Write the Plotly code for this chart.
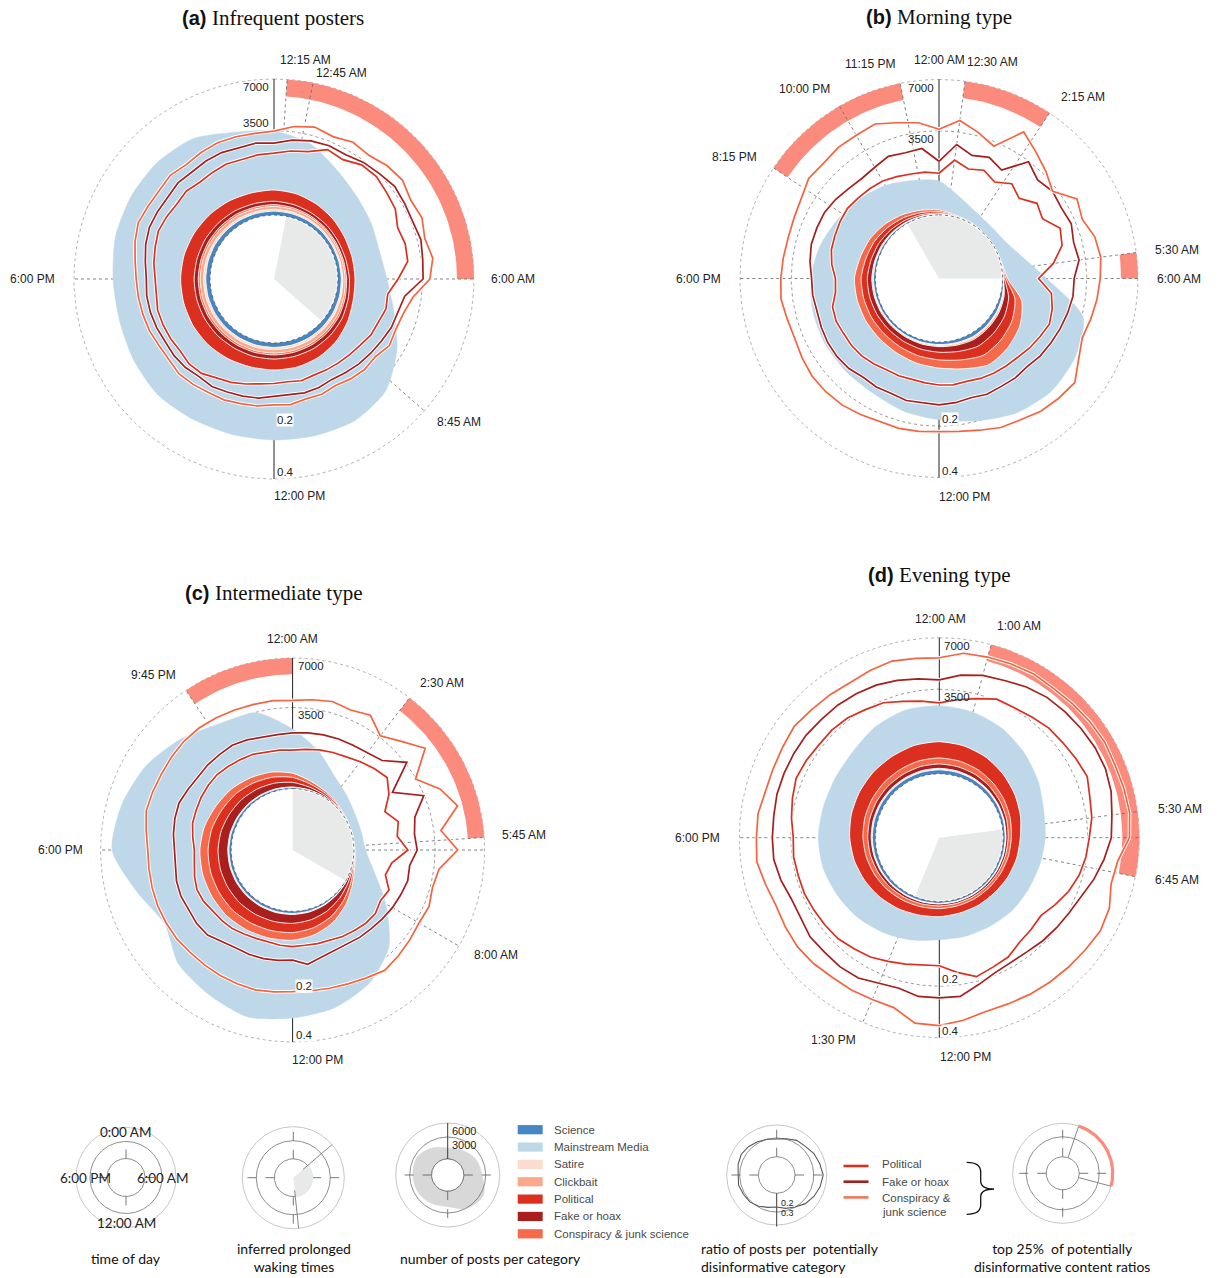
import numpy as np
import plotly.graph_objects as go

W, H = 1221, 1278

# ---------------------------------------------------------------- time grids
HOURS_24 = list(range(24))                 # hourly post counts
HOURS_48 = [i / 2 for i in range(48)]      # half-hourly content ratios
HOURS_12 = list(range(0, 24, 2))           # legend example blob

COUNT_TICKS = [3500, 7000]
RATIO_TICKS = [0.2, 0.4]

# ------------------------------------------------ (a) Infrequent posters
A_SCIENCE = [100, 95, 90, 85, 80, 80, 85, 95, 105, 110, 115, 115, 115, 115, 110, 110, 110, 110, 110, 110, 110, 105, 105, 100]
A_SATIRE = [50, 45, 40, 40, 35, 35, 40, 45, 55, 60, 60, 60, 60, 60, 60, 60, 60, 60, 60, 60, 55, 55, 55, 50]
A_CLICKBAIT = [80, 75, 70, 65, 60, 60, 65, 75, 85, 90, 95, 95, 95, 95, 95, 95, 95, 95, 95, 90, 90, 85, 85, 80]
A_CONSPIRACY = [50, 45, 40, 35, 35, 35, 40, 45, 50, 55, 55, 55, 55, 55, 55, 55, 55, 55, 55, 55, 55, 55, 50, 50]
A_FAKE = [100, 95, 85, 80, 70, 70, 80, 90, 110, 120, 125, 125, 125, 125, 120, 125, 125, 125, 125, 120, 120, 115, 110, 105]
A_POLITICAL = [366, 356, 318, 272, 232, 201, 171, 162, 205, 276, 331, 366, 366, 366, 412, 443, 457, 457, 457, 453, 422, 401, 376, 361]
A_MAINSTREAM = [2730, 2310, 1650, 1290, 1140, 1040, 1210, 1690, 2520, 3360, 3600, 3500, 3440, 3440, 3470, 3560, 3420, 3290, 3350, 3560, 3660, 3690, 3540, 2960]
A_RATIO_POLITICAL = [0.131, 0.140, 0.148, 0.173, 0.166, 0.185, 0.188, 0.179, 0.173, 0.154, 0.160, 0.157, 0.126, 0.101, 0.104, 0.097,
                     0.094, 0.086, 0.082, 0.079, 0.077, 0.075, 0.078, 0.074, 0.076, 0.079, 0.086, 0.094, 0.101, 0.112, 0.115, 0.110,
                     0.113, 0.115, 0.116, 0.111, 0.112, 0.118, 0.123, 0.129, 0.126, 0.122, 0.126, 0.120, 0.123, 0.127, 0.125, 0.129]
A_RATIO_FAKE = [0.160, 0.173, 0.182, 0.186, 0.184, 0.195, 0.202, 0.212, 0.208, 0.205, 0.212, 0.205, 0.202, 0.148, 0.137, 0.134,
                0.126, 0.120, 0.115, 0.109, 0.104, 0.108, 0.109, 0.106, 0.109, 0.115, 0.118, 0.121, 0.126, 0.123, 0.129, 0.131,
                0.130, 0.134, 0.137, 0.138, 0.136, 0.142, 0.151, 0.157, 0.156, 0.154, 0.160, 0.157, 0.161, 0.163, 0.160, 0.164]
A_RATIO_CONSPIRACY = [0.198, 0.218, 0.230, 0.219, 0.232, 0.225, 0.240, 0.247, 0.232, 0.240, 0.226, 0.240, 0.225, 0.173, 0.154, 0.148,
                      0.152, 0.136, 0.137, 0.131, 0.123, 0.128, 0.126, 0.133, 0.131, 0.137, 0.140, 0.145, 0.146, 0.151, 0.155, 0.150,
                      0.151, 0.157, 0.160, 0.163, 0.166, 0.173, 0.185, 0.195, 0.190, 0.188, 0.194, 0.186, 0.192, 0.197, 0.196, 0.195]
A_WAKING = (0.75, 8.75)
A_TOP25 = [(0.25, 6.0)]

# ------------------------------------------------ (b) Morning type
B_SCIENCE = [10, 4, 2, 1, 1, 2, 10, 51, 74, 86, 92, 74, 62, 57, 51, 49, 49, 49, 49, 41, 36, 29, 22, 15]
B_SATIRE = [4, 2, 1, 0, 0, 1, 4, 19, 28, 32, 35, 28, 23, 21, 19, 18, 18, 18, 18, 15, 13, 11, 8, 6]
B_CLICKBAIT = [5, 2, 1, 0, 0, 1, 5, 26, 37, 43, 46, 37, 31, 28, 26, 24, 24, 24, 24, 20, 18, 14, 11, 7]
B_FAKE = [26, 10, 5, 2, 2, 5, 26, 129, 185, 215, 230, 185, 156, 142, 129, 122, 122, 122, 122, 102, 90, 71, 54, 37]
B_POLITICAL = [39, 15, 8, 3, 3, 8, 39, 193, 277, 322, 345, 277, 234, 213, 193, 183, 183, 183, 183, 154, 135, 107, 81, 55]
B_CONSPIRACY = [46, 18, 8, 4, 4, 8, 46, 225, 323, 376, 403, 323, 275, 250, 225, 214, 214, 214, 214, 180, 157, 125, 93, 64]
B_MAINSTREAM = [944, 526, 303, 259, 318, 618, 1346, 2945, 3145, 3119, 2795, 2548, 2352, 2203, 2007, 1989, 1989, 1937, 1836, 1687, 1467, 1334, 1207, 1046]
B_RATIO_POLITICAL = [0.079, 0.115, 0.099, 0.109, 0.094, 0.115, 0.099, 0.126, 0.115, 0.148, 0.137, 0.104, 0.066, 0.099, 0.109, 0.115,
                     0.107, 0.101, 0.094, 0.091, 0.089, 0.086, 0.082, 0.084, 0.082, 0.079, 0.077, 0.079, 0.079, 0.084, 0.089, 0.091,
                     0.091, 0.094, 0.091, 0.077, 0.075, 0.086, 0.094, 0.097, 0.101, 0.104, 0.101, 0.099, 0.097, 0.091, 0.086, 0.084]
B_RATIO_FAKE = [0.109, 0.160, 0.137, 0.148, 0.131, 0.198, 0.173, 0.185, 0.179, 0.185, 0.173, 0.179, 0.160, 0.160, 0.154, 0.148,
                0.142, 0.137, 0.129, 0.131, 0.129, 0.131, 0.126, 0.131, 0.134, 0.131, 0.134, 0.129, 0.131, 0.129, 0.137, 0.140,
                0.140, 0.137, 0.134, 0.137, 0.137, 0.145, 0.151, 0.151, 0.151, 0.145, 0.137, 0.134, 0.140, 0.151, 0.145, 0.148]
B_RATIO_CONSPIRACY = [0.205, 0.240, 0.212, 0.185, 0.277, 0.240, 0.212, 0.185, 0.240, 0.225, 0.247, 0.254, 0.247, 0.240, 0.232, 0.225,
                      0.247, 0.284, 0.277, 0.269, 0.254, 0.247, 0.232, 0.222, 0.218, 0.222, 0.225, 0.225, 0.232, 0.240, 0.243, 0.243,
                      0.236, 0.229, 0.232, 0.240, 0.236, 0.232, 0.229, 0.232, 0.240, 0.258, 0.254, 0.262, 0.262, 0.269, 0.247, 0.232]
B_WAKING = (22.0, 6.0)
B_TOP25 = [(20.25, 23.25), (0.5, 2.25), (5.5, 6.0)]

# ------------------------------------------------ (c) Intermediate type
C_SCIENCE = [27, 16, 9, 5, 2, 1, 2, 5, 13, 25, 39, 49, 55, 58, 60, 62, 62, 62, 61, 58, 51, 47, 41, 35]
C_SATIRE = [5, 3, 2, 1, 0, 0, 0, 1, 2, 4, 6, 8, 9, 10, 10, 10, 10, 10, 10, 10, 9, 8, 7, 6]
C_CLICKBAIT = [9, 5, 3, 2, 1, 0, 1, 2, 4, 8, 13, 16, 18, 19, 20, 21, 21, 21, 20, 19, 17, 16, 14, 12]
C_FAKE = [126, 75, 44, 22, 7, 4, 7, 22, 59, 117, 180, 228, 259, 269, 279, 290, 290, 290, 286, 269, 239, 219, 190, 162]
C_POLITICAL = [148, 89, 52, 25, 8, 5, 8, 25, 70, 138, 212, 269, 305, 317, 329, 342, 342, 342, 337, 317, 281, 258, 223, 190]
C_CONSPIRACY = [134, 81, 47, 22, 7, 5, 7, 22, 64, 126, 193, 246, 278, 288, 300, 311, 311, 311, 307, 288, 255, 233, 202, 172]
C_MAINSTREAM = [1848, 1123, 554, 372, 273, 254, 303, 634, 1435, 2715, 3550, 4020, 4249, 4557, 4106, 3668, 2789, 3668, 5071, 4841, 4389, 3664, 3029, 2895]
C_RATIO_POLITICAL = [0.075, 0.079, 0.084, 0.089, 0.094, 0.104, 0.115, 0.126, 0.104, 0.075, 0.099, 0.089, 0.115, 0.075, 0.066, 0.086,
                     0.079, 0.086, 0.084, 0.079, 0.075, 0.070, 0.068, 0.066, 0.067, 0.066, 0.064, 0.065, 0.068, 0.073, 0.075, 0.077,
                     0.082, 0.084, 0.079, 0.073, 0.071, 0.077, 0.084, 0.086, 0.089, 0.091, 0.092, 0.089, 0.086, 0.084, 0.079, 0.077]
C_RATIO_FAKE = [0.120, 0.123, 0.126, 0.129, 0.131, 0.137, 0.148, 0.205, 0.115, 0.198, 0.148, 0.137, 0.142, 0.123, 0.126, 0.120,
                0.115, 0.109, 0.104, 0.101, 0.097, 0.097, 0.104, 0.115, 0.101, 0.104, 0.107, 0.109, 0.109, 0.115, 0.129, 0.131,
                0.129, 0.131, 0.129, 0.123, 0.121, 0.129, 0.134, 0.137, 0.131, 0.126, 0.129, 0.129, 0.131, 0.126, 0.120, 0.118]
C_RATIO_CONSPIRACY = [0.225, 0.232, 0.240, 0.232, 0.247, 0.205, 0.240, 0.292, 0.198, 0.262, 0.307, 0.225, 0.284, 0.218, 0.208, 0.218,
                      0.212, 0.218, 0.225, 0.232, 0.218, 0.208, 0.202, 0.198, 0.197, 0.202, 0.208, 0.208, 0.208, 0.208, 0.208, 0.212,
                      0.212, 0.212, 0.210, 0.208, 0.208, 0.218, 0.232, 0.232, 0.232, 0.236, 0.240, 0.240, 0.236, 0.232, 0.229, 0.229]
C_WAKING = (0.0, 8.0)
C_TOP25 = [(21.75, 24.0), (2.5, 5.75)]

# ------------------------------------------------ (d) Evening type
D_SCIENCE = [100, 96, 89, 78, 68, 58, 48, 45, 42, 39, 39, 39, 42, 45, 51, 58, 64, 71, 77, 82, 85, 89, 92, 98]
D_SATIRE = [20, 19, 18, 16, 14, 12, 10, 9, 8, 8, 8, 8, 8, 9, 10, 12, 13, 14, 15, 16, 17, 18, 18, 20]
D_CLICKBAIT = [20, 19, 18, 16, 14, 12, 10, 9, 8, 8, 8, 8, 8, 9, 10, 12, 13, 14, 15, 16, 17, 18, 18, 20]
D_FAKE = [120, 115, 107, 94, 81, 69, 58, 54, 50, 47, 47, 47, 50, 54, 61, 69, 77, 85, 92, 98, 102, 107, 111, 118]
D_CONSPIRACY = [180, 173, 160, 141, 122, 104, 87, 81, 75, 70, 70, 70, 75, 81, 92, 104, 116, 128, 138, 147, 153, 160, 166, 177]
D_POLITICAL = [558, 539, 496, 436, 378, 322, 268, 251, 235, 216, 216, 216, 235, 251, 288, 322, 360, 399, 430, 457, 478, 496, 519, 550]
D_MAINSTREAM = [1601, 1535, 1409, 1228, 1058, 899, 911, 861, 852, 882, 842, 842, 812, 943, 1049, 1158, 1227, 1298, 1289, 1193, 1157, 1215, 1472, 1616]
D_RATIO_POLITICAL = [0.157, 0.170, 0.185, 0.205, 0.205, 0.212, 0.222, 0.225, 0.232, 0.240, 0.225, 0.218, 0.205, 0.198, 0.188, 0.173,
                     0.154, 0.137, 0.142, 0.148, 0.166, 0.173, 0.185, 0.160, 0.137, 0.137, 0.145, 0.154, 0.166, 0.173, 0.182, 0.185,
                     0.188, 0.192, 0.192, 0.195, 0.192, 0.202, 0.212, 0.222, 0.218, 0.212, 0.212, 0.208, 0.198, 0.192, 0.176, 0.166]
D_RATIO_FAKE = [0.232, 0.254, 0.269, 0.277, 0.292, 0.303, 0.307, 0.311, 0.315, 0.315, 0.307, 0.292, 0.284, 0.262, 0.240, 0.218,
                0.205, 0.198, 0.192, 0.185, 0.185, 0.192, 0.212, 0.240, 0.240, 0.240, 0.225, 0.232, 0.247, 0.250, 0.247, 0.250,
                0.240, 0.240, 0.254, 0.265, 0.265, 0.265, 0.269, 0.269, 0.269, 0.269, 0.265, 0.265, 0.262, 0.258, 0.250, 0.240]
D_RATIO_CONSPIRACY = [0.315, 0.340, 0.344, 0.348, 0.352, 0.348, 0.352, 0.357, 0.361, 0.357, 0.361, 0.365, 0.357, 0.315, 0.307, 0.332,
                      0.340, 0.332, 0.327, 0.323, 0.319, 0.315, 0.315, 0.332, 0.348, 0.344, 0.299, 0.296, 0.299, 0.299, 0.307, 0.311,
                      0.307, 0.303, 0.315, 0.332, 0.327, 0.327, 0.315, 0.315, 0.319, 0.327, 0.319, 0.315, 0.311, 0.319, 0.327, 0.319]
D_WAKING = (5.5, 13.5)
D_TOP25 = [(1.0, 6.75)]

# ------------------------------------------------ legend examples
G2_WAKING = (3.3, 11.6)
G3_POSTS = [1158, 1371, 1914, 2254, 3505, 2997, 1832, 1997, 2254, 2342, 2432, 1752]
G3_TICKS = [3000, 6000]
G4_RATIO = [0.162, 0.180, 0.213, 0.220, 0.255, 0.277, 0.308, 0.285, 0.255, 0.220, 0.174, 0.144,
            0.116, 0.133, 0.162, 0.187, 0.193, 0.206, 0.193, 0.213, 0.227, 0.213, 0.193, 0.174]
G4_TICKS = [0.2, 0.3]
G5_TOP25 = (1.25, 7.0)

CATEGORY_NAMES = ["Science", "Mainstream Media", "Satire", "Clickbait", "Political", "Fake or hoax", "Conspiracy & junk science"]
LINE_NAMES = ["Political", "Fake or hoax", "Conspiracy &<br>junk science"]

# ---------------------------------------------------------------- styling
COLORS = {
    "Science": "#4686c3",
    "Mainstream Media": "#bed8e9",
    "Satire": "#fddcd0",
    "Clickbait": "#fca98b",
    "Political": "#db3020",
    "Fake or hoax": "#a81f1e",
    "Conspiracy & junk science": "#f46a4b",
}
LINE_COLORS = {"Political": "#d93020", "Fake or hoax": "#a51f1d", "Conspiracy & junk science": "#f6633f"}
TOP25_COLOR = "#fb8b7c"
WAKE_COLOR = "#e8e9e9"
SANS = "Liberation Sans, Arial, sans-serif"
HUMAN = "Lato, Open Sans, sans-serif"

HOLE = 0.32          # inner radius of the count scale (outer ring = 1)
COUNT_MAX = 7000
RATIO_MAX = 0.4
TOP25_INNER = 0.915


def count_radius(v):
    v = np.asarray(v, dtype=float)
    return np.sqrt(HOLE ** 2 + (1 - HOLE ** 2) * v / COUNT_MAX)


def ratio_radius(v):
    return count_radius(np.asarray(v, dtype=float) / RATIO_MAX * COUNT_MAX)


def polar_xy(hours, radii):
    th = np.deg2rad(np.asarray(hours, dtype=float) * 15.0)
    r = np.asarray(radii, dtype=float)
    return r * np.sin(th), r * np.cos(th)


def closed(x, y):
    return np.append(x, x[0]), np.append(y, y[0])


def clock(h):
    h = h % 24
    hh = int(h)
    mm = int(round((h - hh) * 60))
    return f"{hh % 12 or 12}:{mm:02d} {'AM' if hh < 12 else 'PM'}"


fig = go.Figure()
annotations, shapes = [], []


def add_axes(idx, box, center, scale):
    x0, x1, y0, y1 = box
    cx, cy = center
    s = "" if idx == 1 else str(idx)
    fig.update_layout(**{
        "xaxis" + s: dict(domain=[x0 / W, x1 / W], range=[(x0 - cx) / scale, (x1 - cx) / scale],
                          visible=False, fixedrange=True, anchor="y" + s),
        "yaxis" + s: dict(domain=[1 - y1 / H, 1 - y0 / H], range=[(cy - y1) / scale, (cy - y0) / scale],
                          visible=False, fixedrange=True, anchor="x" + s),
    })
    return ("x" + s, "y" + s)


def trace(ax, x, y, **kw):
    fig.add_trace(go.Scatter(x=x, y=y, xaxis=ax[0], yaxis=ax[1], mode="lines",
                             hoverinfo="skip", showlegend=False, **kw))


def note(ax, x, y, text, size=12, family=SANS, color="#222222", xanchor="center",
         yanchor="middle", xshift=0, yshift=0, bg=None, align="center"):
    d = dict(x=x, y=y, xref=ax[0], yref=ax[1], text=text, showarrow=False,
             xanchor=xanchor, yanchor=yanchor, xshift=xshift, yshift=yshift, align=align,
             font=dict(family=family, size=size, color=color))
    if bg:
        d.update(bgcolor=bg, borderpad=0)
    annotations.append(d)


RING_H = np.linspace(0, 24, 289)


def ring(ax, r, color, width, dash="solid", fill=None):
    x, y = polar_xy(RING_H, np.full(RING_H.size, r))
    kw = dict(line=dict(color=color, width=width, dash=dash))
    if fill:
        kw.update(fill="toself", fillcolor=fill)
    trace(ax, x, y, **kw)


def spoke(ax, h, r0, r1, color, width, dash="solid"):
    x, y = polar_xy([h, h], [r0, r1])
    trace(ax, x, y, line=dict(color=color, width=width, dash=dash))


def arc_span(h1, h2):
    if h2 <= h1:
        h2 += 24
    return np.linspace(h1, h2, max(8, int((h2 - h1) * 12)))


def band(ax, h1, h2, r_in, r_out, color):
    hs = arc_span(h1, h2)
    xo, yo = polar_xy(hs, np.full(hs.size, r_out))
    xi, yi = polar_xy(hs[::-1], np.full(hs.size, r_in))
    trace(ax, np.concatenate([xo, xi, xo[:1]]), np.concatenate([yo, yi, yo[:1]]),
          fill="toself", fillcolor=color, line=dict(width=0, color=color))


def wedge(ax, h1, h2, r, color):
    hs = arc_span(h1, h2)
    x, y = polar_xy(hs, np.full(hs.size, r))
    trace(ax, np.concatenate([[0], x, [0]]), np.concatenate([[0], y, [0]]),
          fill="toself", fillcolor=color, line=dict(width=0, color=color))


def draw_panel(ax, cats, order, mainstream, ratio_lines, waking, top25, label_shift, tick_side, k3500_anchor):
    edges = sorted({round(h % 24, 3) for pair in list(top25) + [waking] for h in pair} | {6.0, 18.0})
    # reference rings
    ring(ax, 1.0, "#a0a0a0", 0.8, "dot")
    ring(ax, float(count_radius(COUNT_TICKS[0])), "#808080", 0.8, "dot")
    # top 25% disinformative ratio periods
    for h1, h2 in top25:
        band(ax, h1, h2, TOP25_INNER, 1.0, TOP25_COLOR)
    # spokes at the period boundaries and the clock axes
    for h in edges:
        if h in (0.0, 12.0):
            continue
        spoke(ax, h, HOLE, 1.0, "#666666", 0.8, "dot")
    for h in (0, 12):
        spoke(ax, h, HOLE, 1.0, "#222222", 1.0)
    # stacked post counts per category
    cum = np.zeros(24)
    layers = []
    for name in order:
        cum = cum + np.asarray(cats[name], dtype=float)
        layers.append((name, cum.copy()))
    total = cum + np.asarray(mainstream, dtype=float)
    x, y = closed(*polar_xy(HOURS_24, count_radius(total)))
    trace(ax, x, y, fill="toself", fillcolor=COLORS["Mainstream Media"],
          line=dict(color=COLORS["Mainstream Media"], width=0.5, shape="spline", smoothing=0.7))
    for name, c in reversed(layers):
        x, y = closed(*polar_xy(HOURS_24, count_radius(c)))
        trace(ax, x, y, fill="toself", fillcolor=COLORS[name],
              line=dict(color="white", width=0.9, shape="spline", smoothing=0.7))
    ring(ax, HOLE, "#555555", 0.8, "dot", fill="white")
    wedge(ax, waking[0], waking[1], HOLE - 0.006, WAKE_COLOR)
    # ratio of potentially disinformative posts
    for name, vals in ratio_lines.items():
        x, y = closed(*polar_xy(HOURS_48, ratio_radius(vals)))
        trace(ax, x, y, line=dict(color="white", width=3.6))
        trace(ax, x, y, line=dict(color=LINE_COLORS[name], width=1.7))
    # time labels
    for h, (xs, ys) in label_shift.items():
        x, y = polar_xy([h], [1.0])
        note(ax, float(x[0]), float(y[0]), clock(h), size=12, xshift=xs, yshift=ys)
    # scale labels
    xa = "right" if tick_side == "left" else "left"
    xs = -3 if tick_side == "left" else 3
    note(ax, 0, float(count_radius(COUNT_TICKS[1])), str(COUNT_TICKS[1]), size=11.5, xanchor=xa, yanchor="top", xshift=xs)
    note(ax, 0, float(count_radius(COUNT_TICKS[0])), str(COUNT_TICKS[0]), size=11.5, xanchor=xa, yanchor=k3500_anchor, xshift=xs)
    for v in RATIO_TICKS:
        note(ax, 0, -float(ratio_radius(v)), f"{v:.1f}", size=11.5, xanchor="left", yanchor="bottom", xshift=2, bg="white")


# ---------------------------------------------------------------- main panels
PANELS = [
    dict(idx=1, box=(0, 610, 0, 540), center=(274, 279), scale=200,
         cats={"Science": A_SCIENCE, "Satire": A_SATIRE, "Clickbait": A_CLICKBAIT, "Conspiracy & junk science": A_CONSPIRACY,
               "Fake or hoax": A_FAKE, "Political": A_POLITICAL},
         order=["Science", "Satire", "Clickbait", "Conspiracy & junk science", "Fake or hoax", "Political"],
         mainstream=A_MAINSTREAM,
         ratios={"Political": A_RATIO_POLITICAL, "Fake or hoax": A_RATIO_FAKE, "Conspiracy & junk science": A_RATIO_CONSPIRACY},
         waking=A_WAKING, top25=A_TOP25,
         labels={0.25: (18, 19), 0.75: (28, 10), 6: (39, 0), 8.75: (35, -11), 12: (25, -17), 18: (-42, 0)},
         tick_side="left", k3500="bottom"),
    dict(idx=2, box=(610, 1221, 0, 540), center=(939, 278.5), scale=199,
         cats={"Science": B_SCIENCE, "Satire": B_SATIRE, "Clickbait": B_CLICKBAIT, "Fake or hoax": B_FAKE,
               "Political": B_POLITICAL, "Conspiracy & junk science": B_CONSPIRACY},
         order=["Science", "Satire", "Clickbait", "Fake or hoax", "Political", "Conspiracy & junk science"],
         mainstream=B_MAINSTREAM,
         ratios={"Political": B_RATIO_POLITICAL, "Fake or hoax": B_RATIO_FAKE, "Conspiracy & junk science": B_RATIO_CONSPIRACY},
         waking=B_WAKING, top25=B_TOP25,
         labels={0: (0, 19.5), 0.5: (28, 19.5), 23.25: (-30, 19), 22: (-35.5, 17), 20.25: (-39, 11), 2.25: (33, 16),
                 5.5: (41, 3), 6: (41, 0), 12: (25.6, -19), 18: (-42, 0)},
         tick_side="left", k3500="top"),
    dict(idx=3, box=(0, 610, 540, 1100), center=(292.6, 850), scale=192,
         cats={"Science": C_SCIENCE, "Satire": C_SATIRE, "Clickbait": C_CLICKBAIT, "Fake or hoax": C_FAKE,
               "Political": C_POLITICAL, "Conspiracy & junk science": C_CONSPIRACY},
         order=["Science", "Satire", "Clickbait", "Fake or hoax", "Political", "Conspiracy & junk science"],
         mainstream=C_MAINSTREAM,
         ratios={"Political": C_RATIO_POLITICAL, "Fake or hoax": C_RATIO_FAKE, "Conspiracy & junk science": C_RATIO_CONSPIRACY},
         waking=C_WAKING, top25=C_TOP25,
         labels={0: (0, 19), 21.75: (-32, 15), 2.5: (33, 15), 5.75: (40, 2), 8: (37, -9), 12: (24.5, -18), 18: (-40, 0)},
         tick_side="right", k3500="top"),
    dict(idx=4, box=(610, 1221, 540, 1100), center=(939.3, 837.7), scale=200,
         cats={"Science": D_SCIENCE, "Satire": D_SATIRE, "Clickbait": D_CLICKBAIT, "Fake or hoax": D_FAKE,
               "Conspiracy & junk science": D_CONSPIRACY, "Political": D_POLITICAL},
         order=["Science", "Satire", "Clickbait", "Fake or hoax", "Conspiracy & junk science", "Political"],
         mainstream=D_MAINSTREAM,
         ratios={"Political": D_RATIO_POLITICAL, "Fake or hoax": D_RATIO_FAKE, "Conspiracy & junk science": D_RATIO_CONSPIRACY},
         waking=D_WAKING, top25=D_TOP25,
         labels={0: (1, 19), 1: (28, 19), 5.5: (42, 3), 6.75: (42, -3), 13.5: (-29, -17.5), 12: (26, -19), 18: (-41.6, 0)},
         tick_side="right", k3500="top"),
]

for p in PANELS:
    ax = add_axes(p["idx"], p["box"], p["center"], p["scale"])
    draw_panel(ax, p["cats"], p["order"], p["mainstream"], p["ratios"], p["waking"], p["top25"],
               p["labels"], p["tick_side"], p["k3500"])

# ---------------------------------------------------------------- overlay (pixel coordinates)
fig.update_layout(xaxis10=dict(domain=[0, 1], range=[0, W], visible=False, fixedrange=True, anchor="y10"),
                  yaxis10=dict(domain=[0, 1], range=[H, 0], visible=False, fixedrange=True, anchor="x10"))
OV = ("x10", "y10")
fig.add_trace(go.Scatter(x=[0], y=[0], xaxis="x10", yaxis="y10", mode="markers",
                         marker=dict(opacity=0), hoverinfo="skip", showlegend=False))

TITLES = [("(a)", "Infrequent posters", 273, 18), ("(b)", "Morning type", 939, 17),
          ("(c)", "Intermediate type", 273.5, 593), ("(d)", "Evening type", 939, 575)]
for tag, name, tx, ty in TITLES:
    note(OV, tx, ty, f"<b>{tag}</b> <span style='font-family:Liberation Serif, Times New Roman, serif;font-size:21px'>{name}</span>",
         size=20, color="#111111")

# ---------------------------------------------------------------- legend examples
def glyph_rings(ax, hole, mid):
    ring(ax, 1.0, "#b8b8b8", 0.8)
    ring(ax, mid, "#707070", 0.8)
    ring(ax, hole, "#707070", 0.8)


# time of day
g1 = add_axes(5, (62, 190, 1118, 1236), (126, 1177.5), 50)
glyph_rings(g1, 0.38, 0.72)
for h in (0, 6, 12, 18):
    spoke(g1, h, 0.38, 0.72, "#555555", 0.8, "dash")
for txt, px, py in [("0:00 AM", 126, 1131.5), ("6:00 PM", 85, 1177.5), ("6:00 AM", 163, 1177.5), ("12:00 AM", 126, 1223)]:
    note(OV, px, py, txt, size=13.5, family=HUMAN, color="#222222")

# inferred prolonged waking times
g2 = add_axes(6, (228, 360, 1118, 1238), (293.3, 1177.7), 51)
glyph_rings(g2, 0.37, 0.725)
for h in (0, 6, 12, 18):
    spoke(g2, h, 0.37, 1.0, "#555555", 0.8, "dash")
wedge(g2, G2_WAKING[0], G2_WAKING[1], 0.39, WAKE_COLOR)
for h in G2_WAKING:
    spoke(g2, h, 0.25, 1.0, "#7a7a7a", 0.9)

# number of posts per category
G3_HOLE = 0.31
g3 = add_axes(7, (388, 508, 1115, 1235), (447.7, 1175), 52)
g3_r = np.sqrt(G3_HOLE ** 2 + (1 - G3_HOLE ** 2) * np.asarray(G3_POSTS, float) / G3_TICKS[1])
bx, by = closed(*polar_xy(HOURS_12, g3_r))
trace(g3, bx, by, fill="toself", fillcolor="#d8d8d8", line=dict(color="#d8d8d8", width=0.5, shape="spline", smoothing=1.0))
glyph_rings(g3, G3_HOLE, 0.73)
for h in (6, 12, 18):
    spoke(g3, h, G3_HOLE, 1.0, "#555555", 0.8, "dash")
ring(g3, G3_HOLE, "#707070", 0.8, fill="white")
spoke(g3, 0, G3_HOLE, 1.0, "#222222", 0.9)
for v in G3_TICKS:
    rv = float(np.sqrt(G3_HOLE ** 2 + (1 - G3_HOLE ** 2) * v / G3_TICKS[1]))
    note(g3, 0, rv, str(v), size=11, xanchor="left", yanchor="top", xshift=2)

# category colour keys
for i, name in enumerate(CATEGORY_NAMES):
    yc = 1129.7 + i * 17.35
    shapes.append(dict(type="rect", xref="x10", yref="y10", x0=517.7, x1=542.7, y0=yc - 4.6, y1=yc + 4.6,
                       fillcolor=COLORS[name], line=dict(width=0)))
    note(OV, 552, yc, name, size=11.5, color="#4a4a4a", xanchor="left")

# ratio of posts per potentially disinformative category
G4_HOLE = 0.366
G4_RMAX = 0.92
g4 = add_axes(8, (716, 838, 1115, 1235), (776.7, 1175), 50)
glyph_rings(g4, G4_HOLE, 0.74)
for h in (0, 6, 18):
    spoke(g4, h, G4_HOLE, 1.0, "#555555", 0.8, "dash")
spoke(g4, 12, G4_HOLE, 1.03, "#222222", 0.9)
g4_r = np.sqrt(G4_HOLE ** 2 + (G4_RMAX ** 2 - G4_HOLE ** 2) * np.asarray(G4_RATIO, float) / G4_TICKS[1])
lx, ly = closed(*polar_xy(HOURS_24, g4_r))
trace(g4, lx, ly, line=dict(color="#5a5a5a", width=1.1))
for v, ys in zip(G4_TICKS, (4, 1)):
    rv = float(np.sqrt(G4_HOLE ** 2 + (G4_RMAX ** 2 - G4_HOLE ** 2) * v / G4_TICKS[1]))
    note(g4, 0, -rv, f"{v:.1f}", size=9, xanchor="left", yanchor="bottom", xshift=2, yshift=ys)

# line keys
LINE_KEY_COLORS = [LINE_COLORS["Political"], LINE_COLORS["Fake or hoax"], "#f5765a"]
for i, (name, col) in enumerate(zip(LINE_NAMES, LINE_KEY_COLORS)):
    yc = 1166 + i * 15.7
    shapes.append(dict(type="line", xref="x10", yref="y10", x0=843.5, x1=868.5, y0=yc, y1=yc,
                       line=dict(color=col, width=2.6)))
for txt, py in [("Political", 1164), ("Fake or hoax", 1181.7), ("Conspiracy &", 1197.7), ("junk science", 1212.3)]:
    note(OV, 880, py, txt, size=11.5, color="#4a4a4a", xanchor="left")
shapes.append(dict(type="path", xref="x10", yref="y10",
                   path="M 966.7,1162.3 Q 980.7,1162.3 980.7,1172 L 980.7,1181 Q 980.7,1189 994,1189 "
                        "Q 980.7,1189 980.7,1197 L 980.7,1205 Q 980.7,1214.3 966.7,1214.3",
                   line=dict(color="#111111", width=1.3)))

# top 25% of potentially disinformative content ratios
g5 = add_axes(9, (1002, 1124, 1113, 1233), (1062.7, 1173.3), 50)
glyph_rings(g5, 0.33, 0.73)
for h in (0, 6, 12, 18):
    spoke(g5, h, 0.33, 1.0, "#555555", 0.8, "dash")
for h in G5_TOP25:
    spoke(g5, h, 0.33, 1.0, "#7a7a7a", 0.9)
ahs = arc_span(*G5_TOP25)
axx, ayy = polar_xy(ahs, np.full(ahs.size, 1.0))
trace(g5, axx, ayy, line=dict(color=TOP25_COLOR, width=3.2))

# captions
for txt, px, py, xa, al in [
    ("time of day", 126, 1258, "center", "center"),
    ("inferred prolonged<br>waking times", 294, 1257, "center", "center"),
    ("number of posts per category", 490.5, 1258.5, "center", "center"),
    ("ratio of posts per  potentially<br>disinformative category", 699, 1257.5, "left", "left"),
    ("top 25%  of potentially<br>disinformative content ratios", 1062, 1257.5, "center", "center"),
]:
    note(OV, px, py, txt, size=14, family=HUMAN, color="#111111", xanchor=xa, align=al)

fig.update_layout(width=W, height=H, margin=dict(l=0, r=0, t=0, b=0), paper_bgcolor="white",
                  plot_bgcolor="rgba(0,0,0,0)", showlegend=False, annotations=annotations, shapes=shapes)
fig.write_html("out.html")
